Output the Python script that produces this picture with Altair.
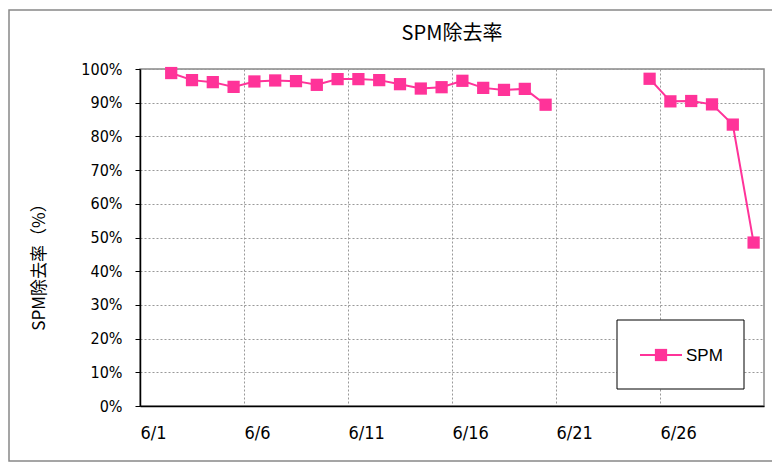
import altair as alt
import pandas as pd

days = list(range(2, 31))
spm = [98.8, 96.7, 96.1, 94.7, 96.3, 96.6, 96.4, 95.3, 97.0, 97.0, 96.7, 95.5, 94.2, 94.6,
       96.5, 94.4, 93.8, 94.1, 89.4, None, None, None, None, 97.1, 90.4, 90.5, 89.5, 83.5, 48.5]
tick_days = [1, 6, 11, 16, 21, 26]
y_ticks = list(range(0, 101, 10))
series_name = "SPM"
chart_title = "SPM除去率"
y_title = "SPM除去率（%）"

df = pd.DataFrame({"day": days, "value": spm})
df["pos"] = df["day"] - 0.5

FONT = "Noto Sans CJK JP"
NARROW = "Liberation Sans Narrow, DejaVu Sans Condensed, Liberation Sans, sans-serif"
PINK = "#FF3399"

x = alt.X("pos:Q", scale=alt.Scale(domain=[0, 30], nice=False, zero=False),
          axis=alt.Axis(values=[d - 1 for d in tick_days], labelExpr="'6/' + (datum.value + 1)",
                        title=None, tickSize=0, labelPadding=18, labelFlush=False, labelAlign="left",
                        labelFontSize=18))
y = alt.Y("value:Q", scale=alt.Scale(domain=[0, 100], nice=False),
          axis=alt.Axis(values=y_ticks, labelExpr="datum.value + '%'", title=None,
                        tickColor="#000", tickSize=5, labelPadding=13, labelFontSize=16))

base = alt.Chart(df).encode(x=x, y=y)
line = base.mark_line(color=PINK, strokeWidth=2)
pts = base.mark_point(shape="square", filled=True, size=150, color=PINK, opacity=1)

# legend box
leg = pd.DataFrame({"label": [series_name], "title": [chart_title], "ytitle": [y_title]})
box = alt.Chart(leg).mark_rect(fill="white", stroke="#000", strokeWidth=1).encode(
    x=alt.value(477), x2=alt.value(604), y=alt.value(251), y2=alt.value(320))
leg_line = alt.Chart(leg).mark_rule(color=PINK, strokeWidth=2).encode(
    x=alt.value(500), x2=alt.value(542), y=alt.value(286))
leg_pt = alt.Chart(leg).mark_point(shape="square", filled=True, size=150, color=PINK, opacity=1).encode(
    x=alt.value(521), y=alt.value(286))
leg_txt = alt.Chart(leg).mark_text(align="left", baseline="middle", fontSize=17, font="Liberation Sans",
                                   color="#000").encode(x=alt.value(546), y=alt.value(287), text="label:N")

title_txt = alt.Chart(leg).mark_text(align="center", baseline="middle", fontSize=20, font=FONT,
                                     color="#000").encode(x=alt.value(312), y=alt.value(-35), text="title:N")
ytitle_txt = alt.Chart(leg).mark_text(align="center", baseline="middle", fontSize=17, font=FONT,
                                      angle=270, color="#000").encode(
    x=alt.value(-100), y=alt.value(194), text="ytitle:N")

frame = alt.Chart(leg).mark_rect(fill=None, stroke="#888", strokeWidth=1.5).encode(
    x=alt.value(-131), x2=alt.value(670), y=alt.value(-59), y2=alt.value(392))

chart = alt.layer(frame, line, pts, box, leg_line, leg_pt, leg_txt, title_txt, ytitle_txt).properties(
    width=624, height=337,
    padding={"left": 132, "top": 61, "right": 8, "bottom": 58},
    autosize=alt.AutoSizeParams(type="none"),
).configure_view(stroke="#888", strokeWidth=1.5).configure_axis(
    grid=True, gridColor="#999", gridDash=[2, 2], domainColor="#000", domainWidth=1.5,
    labelColor="#000", labelFont=NARROW, labelOverlap=False,
)

chart.save("out.html", embed_options={"renderer": "svg", "actions": False})
